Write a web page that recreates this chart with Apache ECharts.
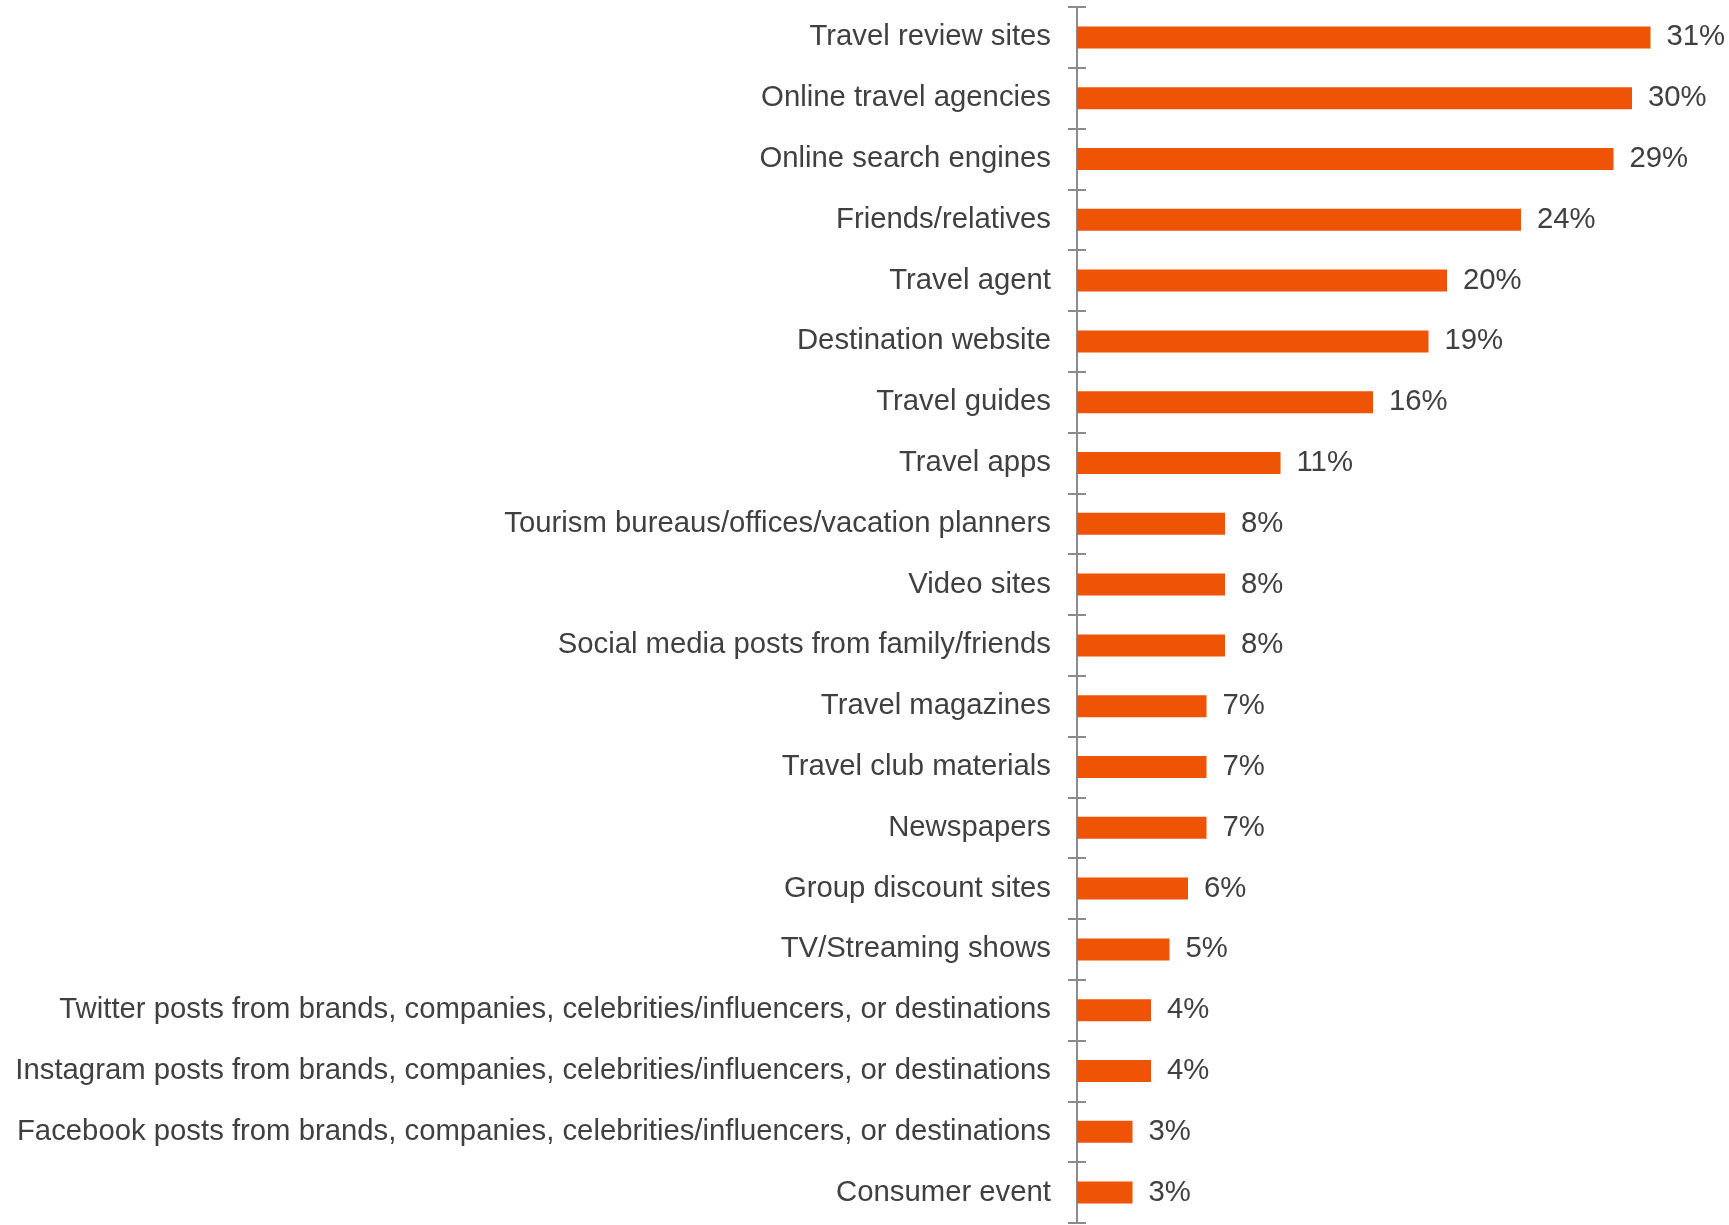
<!DOCTYPE html>
<html>
<head>
<meta charset="utf-8">
<title>Travel information sources</title>
<script src="https://cdn.jsdelivr.net/npm/echarts@6/dist/echarts.min.js"></script>
<style>
  html, body { margin: 0; padding: 0; background: #ffffff; }
  #chart { width: 1729px; height: 1225px; }
</style>
</head>
<body>
<div id="chart"></div>
<script>
// Sources used for travel planning, share of respondents (%)
const categories = [
  'Travel review sites',
  'Online travel agencies',
  'Online search engines',
  'Friends/relatives',
  'Travel agent',
  'Destination website',
  'Travel guides',
  'Travel apps',
  'Tourism bureaus/offices/vacation planners',
  'Video sites',
  'Social media posts from family/friends',
  'Travel magazines',
  'Travel club materials',
  'Newspapers',
  'Group discount sites',
  'TV/Streaming shows',
  'Twitter posts from brands, companies, celebrities/influencers, or destinations',
  'Instagram posts from brands, companies, celebrities/influencers, or destinations',
  'Facebook posts from brands, companies, celebrities/influencers, or destinations',
  'Consumer event'
];
const shares = [31, 30, 29, 24, 20, 19, 16, 11, 8, 8, 8, 7, 7, 7, 6, 5, 4, 4, 3, 3];

const textColor = '#404040';
const axisColor = '#8c8c8c';
const barColor = '#ef5305';
const fontFamily = '"Liberation Sans", Arial, sans-serif';

const chart = echarts.init(document.getElementById('chart'), null, { renderer: 'canvas' });

chart.setOption({
  animation: false,
  backgroundColor: '#ffffff',
  grid: { left: 1077, top: 7, width: 647.5, height: 1216, containLabel: false },
  xAxis: {
    type: 'value',
    min: 0,
    max: 35,
    show: false
  },
  yAxis: [
    {
      type: 'category',
      data: categories,
      inverse: true,
      axisLine: { show: true, lineStyle: { color: axisColor, width: 2 } },
      axisTick: { show: true, inside: false, length: 9, lineStyle: { color: axisColor, width: 2 } },
      axisLabel: {
        color: textColor,
        fontSize: 29.3,
        fontFamily: fontFamily,
        margin: 26
      },
      splitLine: { show: false }
    },
    {
      // mirror axis: draws the inner half of each crossing tick
      type: 'category',
      data: categories,
      inverse: true,
      position: 'left',
      axisLine: { show: false },
      axisTick: { show: true, inside: true, length: 9, lineStyle: { color: axisColor, width: 2 } },
      axisLabel: { show: false },
      splitLine: { show: false }
    }
  ],
  series: [
    {
      type: 'bar',
      data: shares,
      yAxisIndex: 0,
      barWidth: 22,
      itemStyle: { color: barColor },
      label: {
        show: true,
        position: 'right',
        distance: 16,
        formatter: '{c}%',
        color: textColor,
        fontSize: 29.3,
        fontFamily: fontFamily
      }
    }
  ]
});
</script>
</body>
</html>
